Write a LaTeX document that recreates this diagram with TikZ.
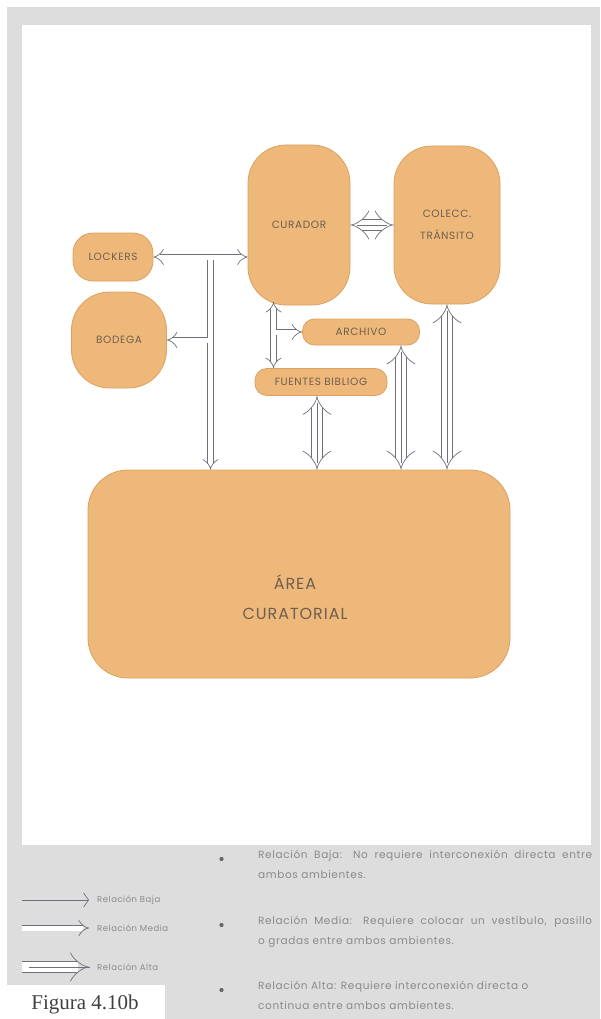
\documentclass[tikz,border=0pt]{standalone}
\usepackage{fontspec}
\setmainfont{Poppins}
\newfontfamily\rotfont[LetterSpace=6]{Poppins}
\newfontfamily\piefont{Liberation Serif}
\usetikzlibrary{arrows.meta,calc,positioning}

% colores
\definecolor{sala}{RGB}{237,184,122}
\definecolor{salaborde}{RGB}{220,160,96}
\definecolor{rotulo}{RGB}{112,94,78}
\definecolor{flecha}{RGB}{112,112,124}
\definecolor{marco}{RGB}{221,221,221}
\definecolor{nota}{RGB}{138,138,138}

\tikzset{
  sala/.style={draw=salaborde, fill=sala, line width=0.8pt, rounded corners=#1,
    inner sep=0pt, text=rotulo, font=\rotfont\fontsize{10.5}{22}\selectfont, align=center},
  sala/.default=12pt,
  baja/.style={draw=flecha, line width=0.7pt, >={Straight Barb[length=5pt, width=14pt]}},
  media/.style={draw=flecha, line width=0.7pt, double=white, double distance=5pt, >={Implies[scale=1.7]}},
  alta/.style={draw=flecha, line width=0.7pt, double=white, double distance=10pt, >={Implies[scale=1.7]},
    postaction={draw=flecha, line width=0.7pt, -, shorten <=7pt, shorten >=7pt}},
  leyenda/.style={inner sep=0pt, text=nota, font=\rotfont\fontsize{8.5}{10}\selectfont},
  texto/.style={inner sep=0pt, text=nota, text width=334pt, align=justify,
    font=\rotfont\fontsize{10.5}{20}\selectfont},
}

\begin{document}
\begin{tikzpicture}[x=1pt, y=-1pt]
  \useasboundingbox (0,0) rectangle (600,1019);

  % marco gris y hoja blanca
  \fill[marco] (7,7) rectangle (600,1019);
  \fill[white] (22,25) rectangle (591,845);

  % ambientes
  \node[sala=38pt, minimum width=102pt, minimum height=160pt] (curador) at (299,225) {CURADOR};
  \node[sala=38pt, minimum width=106pt, minimum height=158pt] (colecc) at (447,225) {COLECC.\\TRÁNSITO};
  \node[sala=20pt, minimum width=80pt, minimum height=48pt] (lockers) at (113,257) {LOCKERS};
  \node[sala=38pt, minimum width=95pt, minimum height=96pt] (bodega) at (119,340) {BODEGA};
  \node[sala, minimum width=117pt, minimum height=26pt] (archivo) at (361,332) {ARCHIVO};
  \node[sala, minimum width=132pt, minimum height=27pt] (fuentes) at (321,382) {FUENTES BIBLIOG};
  \node[sala=40pt, minimum width=422pt, minimum height=208pt] (area) at (299,574) {};
  \node[text=rotulo, align=center, font=\rotfont\fontsize{16}{30}\selectfont] (areatxt) at (295,597) {ÁREA\\CURATORIAL};

  % relaciones medias
  \draw[media, <->] (lockers.east) -- (lockers.east -| curador.west);
  \coordinate (tronco) at (210.5,259.5);
  \draw[media, ->] (tronco) -- (tronco |- area.north);
  \coordinate (ramal) at (208,340);
  \draw[media, ->] (ramal) -- (bodega.east);
  \coordinate (curbajo) at (273.5,302);
  \draw[media, <->] (curbajo) -- (curbajo |- fuentes.north);
  \coordinate (ramal2) at (276,332);
  \draw[media, ->] (ramal2) -- (archivo.west);

  % relaciones altas
  \draw[alta, <->] (curador.east) -- (colecc.west);
  \draw[alta, <->] ([xshift=-4pt]fuentes.south) -- ([xshift=-4pt]fuentes.south |- area.north);
  \draw[alta, <->] ([xshift=40pt]archivo.south) -- ([xshift=40pt]archivo.south |- area.north);
  \draw[alta, <->] (colecc.south) -- (colecc.south |- area.north);

  % leyenda
  \coordinate (bajaini) at (22,900);
  \coordinate (mediaini) at (22,928);
  \coordinate (altaini) at (22,967);
  \node[leyenda, anchor=west] (bajatxt) at (97,900) {Relación Baja};
  \node[leyenda, anchor=west] (mediatxt) at (97,928) {Relación Media};
  \node[leyenda, anchor=west] (altatxt) at (97,967) {Relación Alta};
  \draw[baja, ->, shorten >=8pt] (bajaini) -- (bajatxt.west);
  \draw[media, ->, shorten >=8pt] (mediaini) -- (mediatxt.west);
  \draw[alta, ->, shorten >=8pt] (altaini) -- (altatxt.west);

  % notas
  \foreach \y in {859,925,990}
    \fill[black!60] (221.5,\y) circle (2.1pt);
  \node[texto, anchor=north west] (notabaja) at (258,850)
    {Relación Baja: No requiere interconexión directa entre\linebreak ambos ambientes.};
  \node[texto, anchor=north west] (notamedia) at (258,916)
    {Relación Media: Requiere colocar un vestíbulo, pasillo\linebreak o gradas entre ambos ambientes.};
  \node[texto, anchor=north west] (notaalta) at (258,981)
    {Relación Alta: Requiere interconexión directa o\newline continua entre ambos ambientes.};

  % pie de figura
  \fill[white] (7,985) rectangle (165,1019);
  \node[text=black!75, font=\piefont\fontsize{21}{22}\selectfont] (pie) at (85,1004) {Figura 4.10b};
\end{tikzpicture}
\end{document}
